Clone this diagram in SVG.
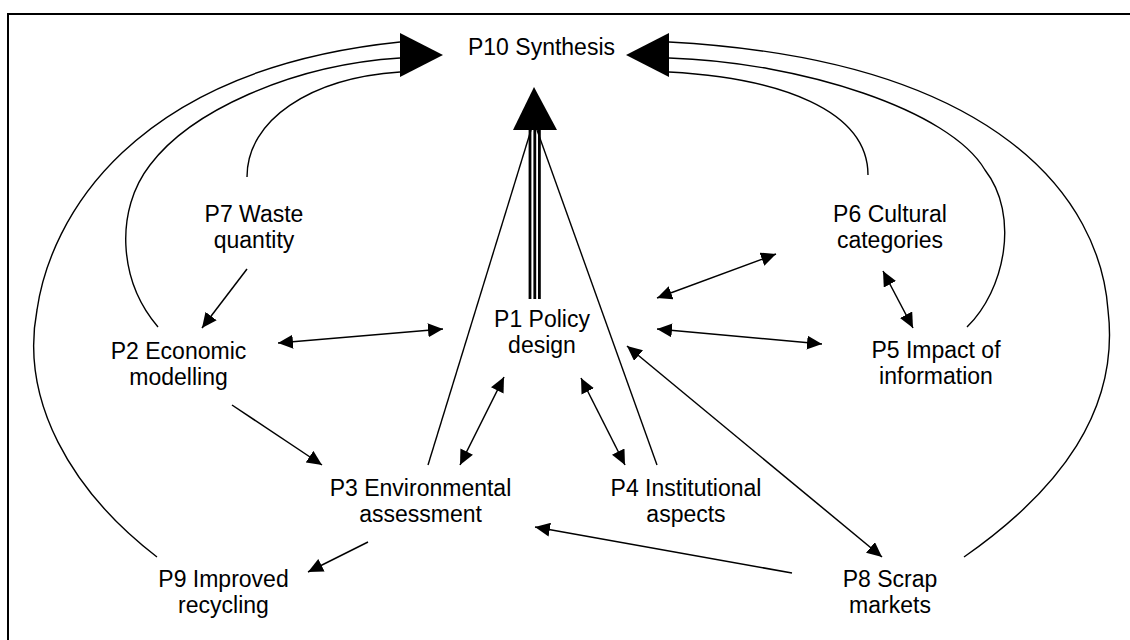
<svg xmlns="http://www.w3.org/2000/svg" width="1130" height="640" viewBox="0 0 1130 640">
<style>
text{font-family:"Liberation Sans",Arial,sans-serif;font-size:23px;fill:#000;text-anchor:middle}
.c{fill:none;stroke:#000;stroke-width:1.4}
.a{fill:none;stroke:#000;stroke-width:1.5;marker-end:url(#ah)}
.d{fill:none;stroke:#000;stroke-width:1.5;marker-start:url(#ah);marker-end:url(#ah)}
.big{fill:#000}
</style>
<defs>
<marker id="ah" markerUnits="userSpaceOnUse" markerWidth="16" markerHeight="14" refX="15" refY="7" orient="auto-start-reverse" viewBox="0 0 16 14">
<path d="M0,0 L15,7 L0,14 z" fill="#000"/>
</marker>
</defs>
<rect x="8" y="14" width="1140" height="640" fill="#fff" stroke="#000" stroke-width="2"/>
<g id="connectors">
<path class="c" d="M247,177 C247,120 310,78 400,72"/>
<path class="c" d="M158,327 C118,280 115,210 150,165 C190,112 290,65 400,58"/>
<path class="c" d="M157,557 C70,490 20,400 37,310 C50,220 130,70 400,42"/>
<path class="c" d="M868,175 C868,110 780,78 669,72"/>
<path class="c" d="M967,327 C1005,290 1020,215 985,170 C950,110 800,62 669,58"/>
<path class="c" d="M964,557 C1060,490 1120,410 1108,310 C1100,200 1000,60 669,42"/>
<polygon class="big" points="400,33 443,55 400,77"/>
<polygon class="big" points="669,33 626,55 669,77"/>
<line class="c" x1="428" y1="465" x2="531" y2="130"/>
<line class="c" x1="657" y1="465" x2="537" y2="130"/>
<g stroke="#000" stroke-width="2.8">
<line x1="530" y1="128" x2="530" y2="299"/>
<line x1="534.8" y1="128" x2="534.8" y2="299"/>
<line x1="539.4" y1="128" x2="539.4" y2="299"/>
</g>
<polygon class="big" points="534,87 513,130 557,130"/>
<line class="a" x1="247" y1="269" x2="202" y2="328"/>
<line class="d" x1="278" y1="343" x2="443" y2="329"/>
<line class="a" x1="232" y1="405" x2="322" y2="465"/>
<line class="d" x1="504" y1="377" x2="460" y2="465"/>
<line class="d" x1="581" y1="378" x2="625" y2="465"/>
<line class="d" x1="657" y1="298" x2="776" y2="254"/>
<line class="d" x1="657" y1="329" x2="822" y2="344"/>
<line class="d" x1="883" y1="271" x2="913" y2="328"/>
<line class="d" x1="627" y1="346" x2="882" y2="557"/>
<line class="a" x1="792" y1="573" x2="535" y2="527"/>
<line class="a" x1="368" y1="542" x2="308" y2="572"/>
</g>
<g id="P10"><text x="541.5" y="55">P10 Synthesis</text></g>
<g id="P7"><text x="254" y="222">P7 Waste</text><text x="254" y="248">quantity</text></g>
<g id="P6"><text x="890" y="222">P6 Cultural</text><text x="890" y="248">categories</text></g>
<g id="P2"><text x="178.5" y="359">P2 Economic</text><text x="178.5" y="385">modelling</text></g>
<g id="P1"><text x="542" y="327">P1 Policy</text><text x="542" y="353">design</text></g>
<g id="P5"><text x="936" y="358">P5 Impact of</text><text x="936" y="384">information</text></g>
<g id="P3"><text x="420.5" y="496">P3 Environmental</text><text x="420.5" y="522">assessment</text></g>
<g id="P4"><text x="686" y="496">P4 Institutional</text><text x="686" y="522">aspects</text></g>
<g id="P9"><text x="223.5" y="587">P9 Improved</text><text x="223.5" y="613">recycling</text></g>
<g id="P8"><text x="890" y="587">P8 Scrap</text><text x="890" y="613">markets</text></g>
</svg>
